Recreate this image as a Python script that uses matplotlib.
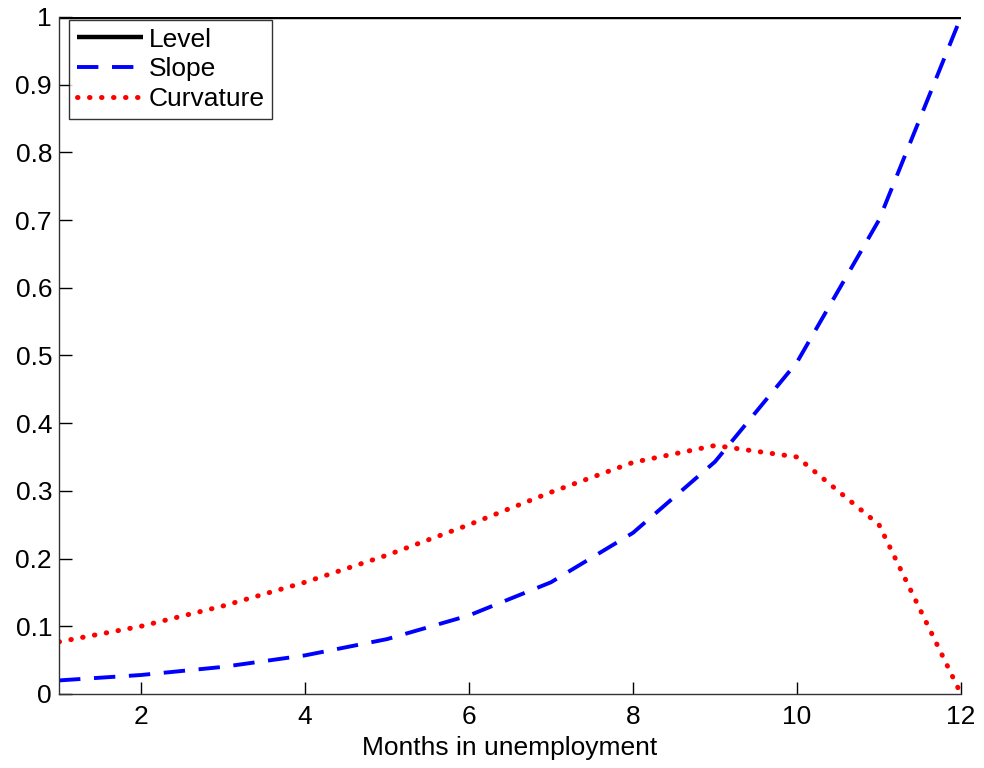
import matplotlib
matplotlib.use("Agg")
import matplotlib.pyplot as plt
import numpy as np

months = [1, 2, 3, 4, 5, 6, 7, 8, 9, 10, 11, 12]
level = [1, 1, 1, 1, 1, 1, 1, 1, 1, 1, 1, 1]
slope = [0.020, 0.028, 0.040, 0.057, 0.081, 0.116, 0.165, 0.238, 0.343, 0.490, 0.700, 1.000]
curvature = [0.077, 0.100, 0.130, 0.165, 0.205, 0.250, 0.298, 0.342, 0.367, 0.350, 0.250, 0.000]

plt.rcParams['font.family'] = ['Liberation Sans', 'DejaVu Sans']

fig = plt.figure(figsize=(9.84, 7.68), dpi=100)
ax = fig.add_axes([0.060, 0.0964, 0.9166, 0.8816])

ax.plot(months, level, color='black', lw=3.2, label='Level', solid_capstyle='butt')
ax.plot(months, slope, color='#0000ff', lw=2.8, dashes=(5.5, 3.5), label='Slope')
ax.plot(months, curvature, color='#ff0000', lw=3.6, linestyle=(0, (0.1, 2.3)), dash_capstyle='round', label='Curvature')

ax.set_xlim(1, 12)
ax.set_ylim(0, 1)
ax.set_xticks([2, 4, 6, 8, 10, 12])
ax.set_yticks(np.round(np.arange(0, 1.01, 0.1), 1))
ax.set_yticklabels(['0', '0.1', '0.2', '0.3', '0.4', '0.5', '0.6', '0.7', '0.8', '0.9', '1'])
ax.tick_params(direction='in', length=9, width=1, labelsize=19, colors='black', pad=5)
ax.tick_params(axis='x', pad=8)
ax.spines['top'].set_visible(False)
ax.spines['right'].set_visible(False)
for s in ('left', 'bottom'):
    ax.spines[s].set_color('#333333')
    ax.spines[s].set_linewidth(1)
ax.set_xlabel('Months in unemployment', fontsize=19, labelpad=5)

leg = ax.legend(loc='upper left', bbox_to_anchor=(0.0115, 0.996), fontsize=19, frameon=True,
                fancybox=False, edgecolor='black', borderpad=0.3, labelspacing=0.22,
                handlelength=2.5, handletextpad=0.2, borderaxespad=0)
leg.get_frame().set_linewidth(1)

fig.savefig('out.png', dpi=100)
